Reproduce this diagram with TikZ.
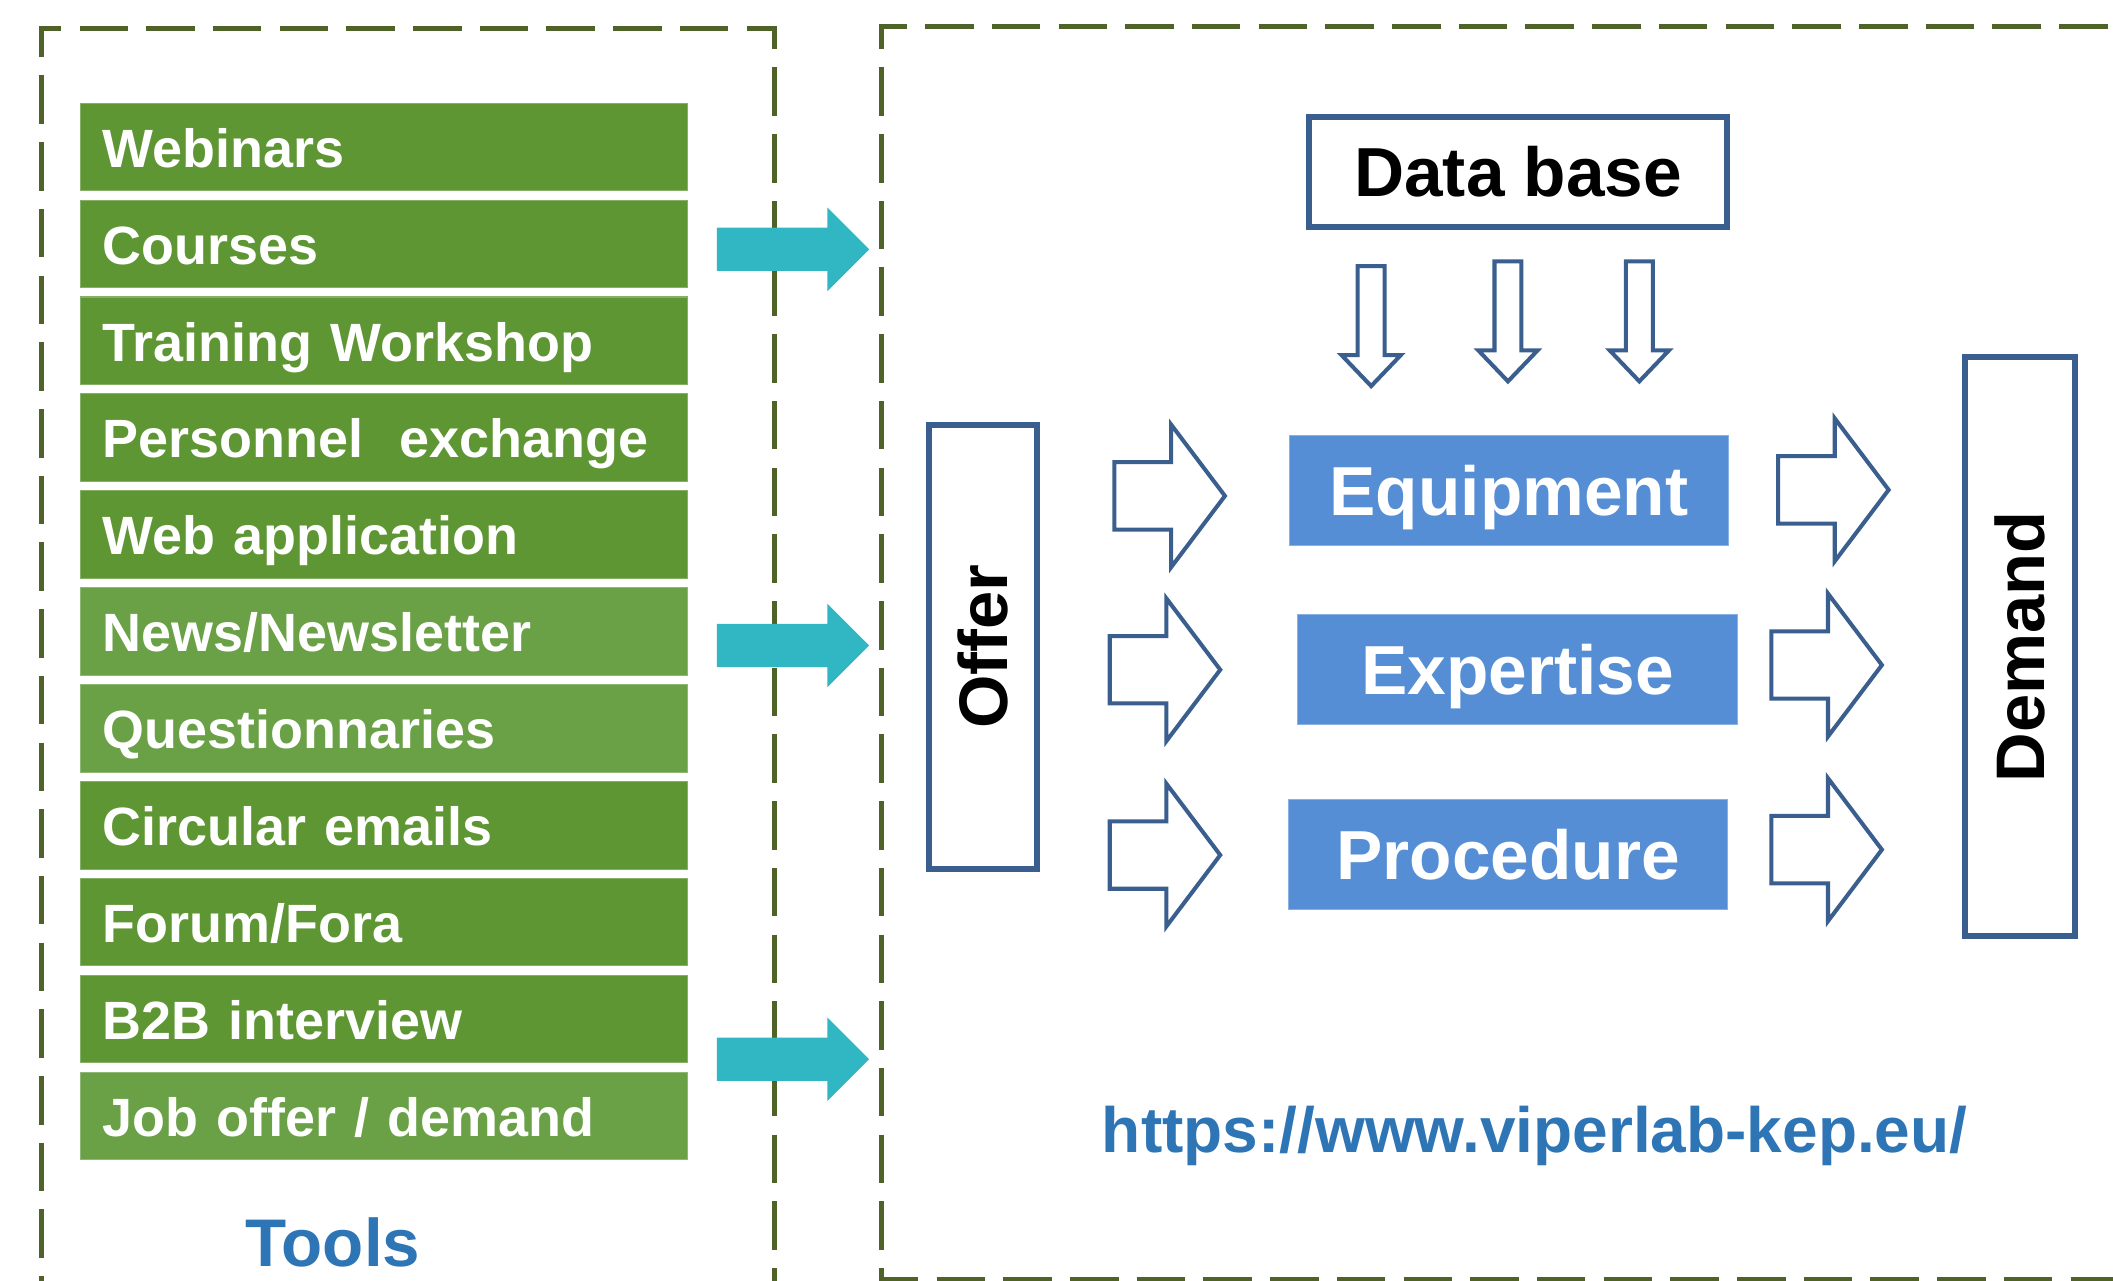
\documentclass[tikz,border=0pt]{standalone}
\usepackage{fontspec}
\setmainfont{Liberation Sans}
\definecolor{dashgreen}{HTML}{4F6228}
\definecolor{gdark}{HTML}{5F9634}
\definecolor{glight}{HTML}{6AA147}
\definecolor{cyanarr}{HTML}{31B6C4}
\definecolor{bline}{HTML}{3A5F8F}
\definecolor{bfill}{HTML}{558ED5}
\definecolor{urlblue}{HTML}{2E75B6}
\begin{document}
\begin{tikzpicture}[x=1pt,y=-1pt,
  dashbox/.style={draw=dashgreen, line width=3.8pt, dash pattern=on 36pt off 13.5pt},
  toolbox/.style={fill=#1, draw=#1!75!white, line width=0.8pt, anchor=north west,
    minimum height=65pt, text width=417pt, inner xsep=17pt, inner ysep=0pt, align=left,
    text height=30pt, text depth=0pt, text=white, font=\fontsize{40}{40}\selectfont\bfseries},
  bluebox/.style={fill=bfill, draw=bfill!70!white, line width=0.8pt, minimum width=326pt,
    minimum height=81.7pt, inner sep=0pt, text height=36.9pt, text depth=0pt, text=white,
    font=\fontsize{51.5}{51.5}\selectfont\bfseries},
  framebox/.style={draw=bline, line width=4.5pt, fill=white, inner sep=0pt},
  vtext/.style={rotate=90, inner sep=0pt, text height=36.5pt, text depth=0pt,
    font=\fontsize{51}{51}\selectfont\bfseries},
  outarrow/.style={draw=bline, line width=3pt, fill=white, line join=miter},
  rarrow/.pic={\draw[outarrow] (0,-25) -- (42,-25) -- (42,-53) -- (82,0) -- (42,53) -- (42,25) -- (0,25) -- cycle;},
  darrow/.pic={\draw[outarrow] (-10,0) -- (10,0) -- (10,66) -- (22,66) -- (0,89) -- (-22,66) -- (-10,66) -- cycle;},
  carrow/.pic={\fill[cyanarr] (0,-16) -- (82,-16) -- (82,-31) -- (113,0) -- (82,31) -- (82,16) -- (0,16) -- cycle;}
]
\useasboundingbox (0,0) rectangle (1568,950);
\clip (0,0) rectangle (1568,950);

% dashed frames
\coordinate (ltl) at (31,21);
\coordinate (rtl) at (654,19.5);
\draw[dashbox] (31,42.5) -- (ltl) -- (574.5,21) -- (574.5,1010);
\draw[dashbox, dash phase=36pt] (31,42.5) -- (31,1010);
\draw[dashbox] (654,36.5) -- (rtl) -- (1700,19.5);
\draw[dashbox, dash phase=36pt] (654,36.5) -- (654,949.5) -- (1700,949.5);

% tools list
\foreach \i/\t/\c in {0/{Webinars}/gdark, 1/{Courses}/gdark, 2/{Training Workshop}/gdark,
  3/{Personnel\ \ exchange}/gdark, 4/{Web application}/gdark, 5/{News/Newsletter}/glight,
  6/{Questionnaries}/glight, 7/{Circular emails}/gdark, 8/{Forum/Fora}/gdark,
  9/{B2B interview}/gdark, 10/{Job offer / demand}/glight}
  \node[toolbox=\c] (g\i) at (59,76.2+71.9*\i) {\t};

\node[text=urlblue, anchor=base, inner sep=0pt, font=\fontsize{50}{50}\selectfont\bfseries] (tools) at (247,939.8) {Tools};

% cyan arrows
\pic (c1) at (532,185) {carrow};
\pic (c2) at (532,479) {carrow};
\pic (c3) at (532,786) {carrow};

% data base
\node[framebox, minimum width=310pt, minimum height=81.6pt, text height=37.3pt, text depth=0pt,
  font=\fontsize{51.5}{51.5}\selectfont\bfseries] (db) at (1126.6,127.4) {Data base};

% down arrows
\pic (d1) at (1017.5,197.5) {darrow};
\pic (d2) at (1119,194) {darrow};
\pic (d3) at (1216.5,194) {darrow};

% offer / demand
\node[framebox, minimum width=80.5pt, minimum height=329.5pt] (offer) at (729.5,480) {};
\node[vtext] (offert) at (offer.center) {Offer};
\node[framebox, minimum width=81.5pt, minimum height=429.5pt] (demand) at (1499,480) {};
\node[vtext] (demandt) at (demand.center) {Demand};

% blue boxes
\node[bluebox] (equip) at (1119.7,364.2) {Equipment};
\node[bluebox] (exper) at (1126,496.7) {Expertise};
\node[bluebox] (proc) at (1119.2,634.2) {Procedure};

% outline block arrows
\pic (l1) at (827,368) {rarrow};
\pic (l2) at (823.5,497) {rarrow};
\pic (l3) at (823.5,634.5) {rarrow};
\pic (r1) at (1319.5,363.5) {rarrow};
\pic (r2) at (1314.5,493.5) {rarrow};
\pic (r3) at (1314.5,630.5) {rarrow};

% url
\node[text=urlblue, anchor=base, inner sep=0pt, font=\fontsize{47.5}{47.5}\selectfont\bfseries] (url) at (1138.8,855.5) {https://www.viperlab-kep.eu/};
\end{tikzpicture}
\end{document}
